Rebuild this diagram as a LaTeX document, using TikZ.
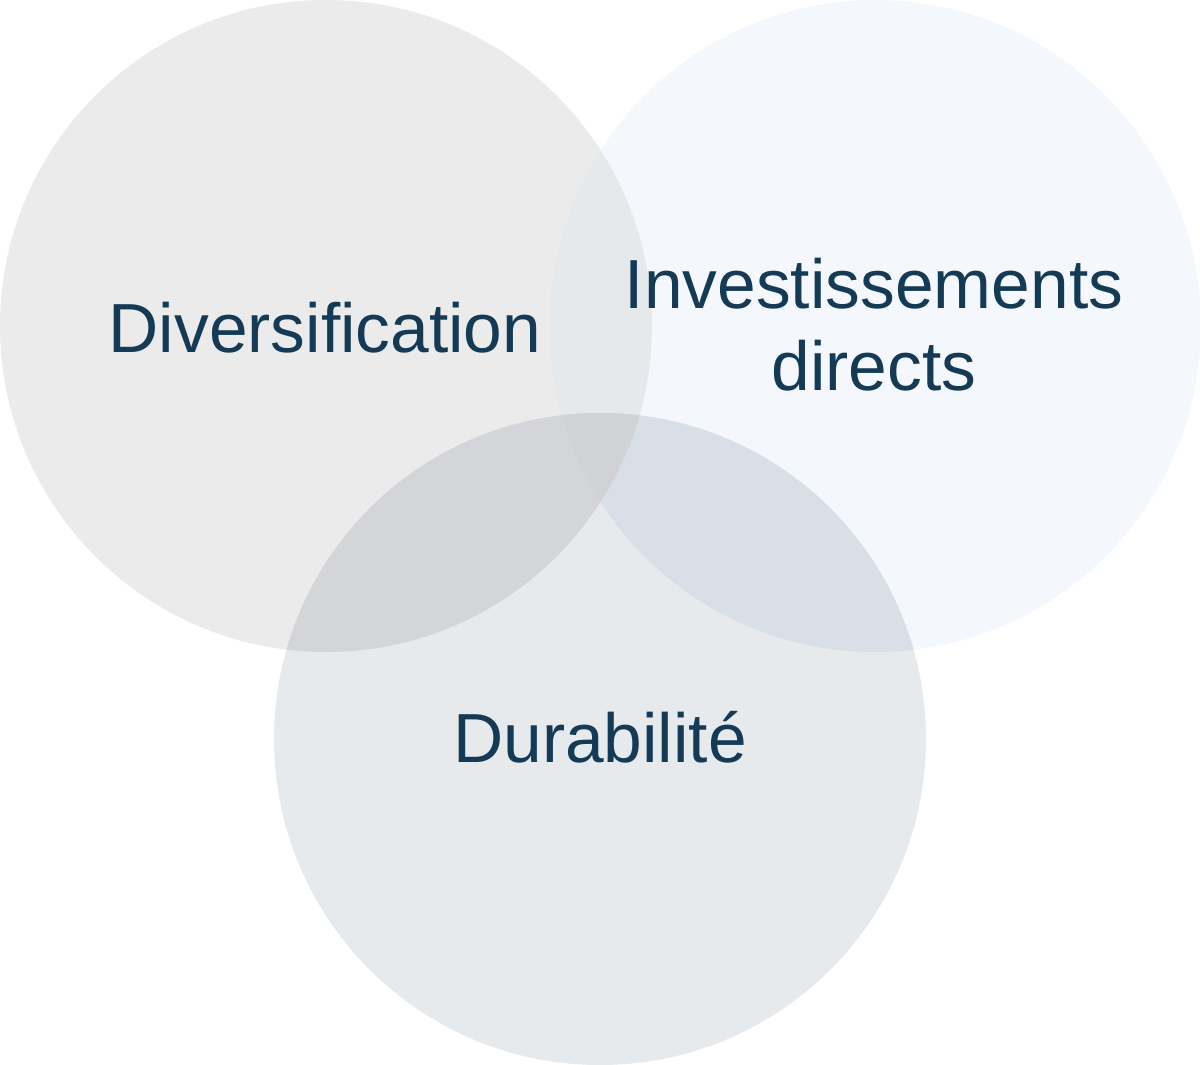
\documentclass[tikz,border=0pt]{standalone}
\usepackage{fontspec}
\setmainfont{Liberation Sans}
\definecolor{cOne}{RGB}{235,235,235}
\definecolor{cTwo}{RGB}{244,248,252}
\definecolor{cThree}{RGB}{231,234,237}
\definecolor{cOneTwo}{RGB}{230,233,235}
\definecolor{cOneThree}{RGB}{212,213,217}
\definecolor{cTwoThree}{RGB}{217,223,230}
\definecolor{cAll}{RGB}{208,210,214}
\definecolor{txt}{RGB}{20,58,86}
\begin{document}
\begin{tikzpicture}[x=1pt,y=-1pt,
  lbl/.style={text=txt,font=\fontsize{69.5}{82}\selectfont,inner sep=0pt,align=center,anchor=base}]
\useasboundingbox (0,0) rectangle (1200,1065);
\def\cA{(326,326) circle[radius=326]}
\def\cB{(875,326) circle[radius=326]}
\def\cC{(600,739) circle[radius=326]}
\fill[cOne] \cA;
\fill[cTwo] \cB;
\fill[cThree] \cC;
\begin{scope}\clip \cA; \fill[cOneTwo] \cB; \end{scope}
\begin{scope}\clip \cA; \fill[cOneThree] \cC; \end{scope}
\begin{scope}\clip \cB; \fill[cTwoThree] \cC; \end{scope}
\begin{scope}\clip \cA; \clip \cB; \fill[cAll] \cC; \end{scope}
\node[lbl] (div) at (325,352) {Diversification};
\node[lbl] (inv) at (874,390) {Investissements\\directs};
\node[lbl] (dur) at (600,762) {Durabilité};
\end{tikzpicture}
\end{document}
